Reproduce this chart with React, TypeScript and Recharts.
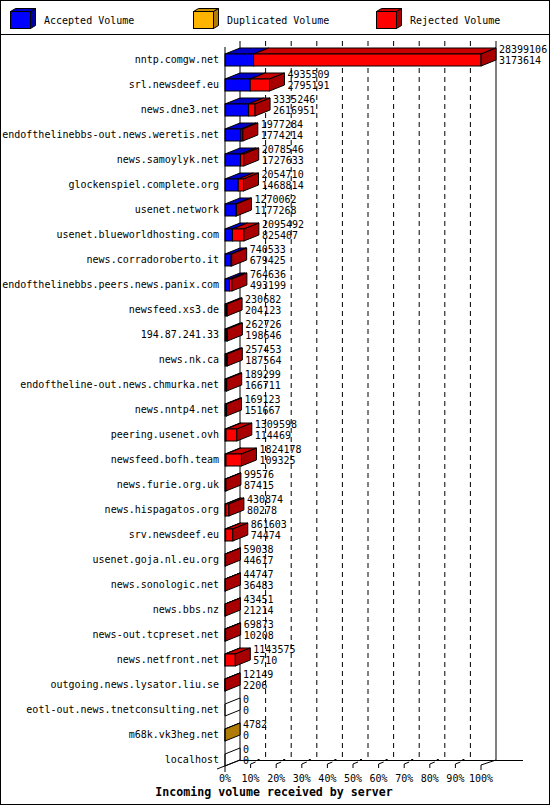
import React from "react";
import { Bar, BarChart, CartesianGrid, Legend, XAxis, YAxis } from "recharts";

const SERVERS = [
  "nntp.comgw.net",
  "srl.newsdeef.eu",
  "news.dne3.net",
  "endofthelinebbs-out.news.weretis.net",
  "news.samoylyk.net",
  "glockenspiel.complete.org",
  "usenet.network",
  "usenet.blueworldhosting.com",
  "news.corradoroberto.it",
  "endofthelinebbs.peers.news.panix.com",
  "newsfeed.xs3.de",
  "194.87.241.33",
  "news.nk.ca",
  "endoftheline-out.news.chmurka.net",
  "news.nntp4.net",
  "peering.usenet.ovh",
  "newsfeed.bofh.team",
  "news.furie.org.uk",
  "news.hispagatos.org",
  "srv.newsdeef.eu",
  "usenet.goja.nl.eu.org",
  "news.sonologic.net",
  "news.bbs.nz",
  "news-out.tcpreset.net",
  "news.netfront.net",
  "outgoing.news.lysator.liu.se",
  "eotl-out.news.tnetconsulting.net",
  "m68k.vk3heg.net",
  "localhost",
];

// first number printed next to each bar
const TOTAL_VOLUME = [
  28399106, 4935509, 3335246, 1977284, 2078546, 2054710, 1270062, 2095492, 740533, 764636,
  230682, 262726, 257453, 189299, 169123, 1309598, 1824178, 99576, 430874, 861603,
  59038, 44747, 43451, 69873, 1143575, 12149, 0, 4782, 0,
];

// second number printed next to each bar
const ACCEPTED_VOLUME = [
  3173614, 2795191, 2616951, 1774214, 1727633, 1468814, 1177268, 825407, 679425, 493199,
  204123, 198646, 187564, 166711, 151667, 114469, 109325, 87415, 80278, 74474,
  44617, 36483, 21214, 10208, 5710, 2206, 0, 0, 0,
];

const DUPLICATED_VOLUME = [
  0, 0, 0, 0, 0, 0, 0, 0, 0, 0,
  0, 0, 0, 0, 0, 0, 0, 0, 0, 0,
  0, 0, 0, 0, 0, 0, 0, 4782, 0,
];

const PCT_TICKS = [0, 10, 20, 30, 40, 50, 60, 70, 80, 90, 100];
const PCT_LABELS = PCT_TICKS.map((p) => `${p}%`);

const FONT = "'DejaVu Sans Mono', monospace";
const DEPTH_X = 15;
const DEPTH_Y = 6;

const SERIES = [
  { key: "accepted", name: "Accepted Volume", front: "#0000ff", top: "#0000c8", side: "#0000a0" },
  { key: "duplicated", name: "Duplicated Volume", front: "#ffb400", top: "#cc9000", side: "#b07c08" },
  { key: "rejected", name: "Rejected Volume", front: "#ff0000", top: "#c80000", side: "#a80000" },
];

const MAX_TOTAL = Math.max(...TOTAL_VOLUME);

const data = SERVERS.map((name, i) => ({
  name,
  total: TOTAL_VOLUME[i],
  accepted: ACCEPTED_VOLUME[i],
  duplicated: DUPLICATED_VOLUME[i],
  rejected: TOTAL_VOLUME[i] - ACCEPTED_VOLUME[i] - DUPLICATED_VOLUME[i],
}));

function lastSegment(row: any) {
  let last = -1;
  SERIES.forEach((s, i) => {
    if (row[s.key] > 0) last = i;
  });
  return last;
}

function sidePoints(x: number, y: number, h: number) {
  return `${x},${y} ${x + DEPTH_X},${y - DEPTH_Y} ${x + DEPTH_X},${y + h - DEPTH_Y} ${x},${y + h}`;
}

function makeShape(idx: number) {
  const s = SERIES[idx];
  return (props: any) => {
    const { x, y, height, payload } = props;
    const w = Math.max(0, props.width || 0);
    const x1 = x + w;
    const last = lastSegment(payload);
    return (
      <g>
        {w > 0 && (
          <>
            <polygon
              points={`${x},${y} ${x + DEPTH_X},${y - DEPTH_Y} ${x1 + DEPTH_X},${y - DEPTH_Y} ${x1},${y}`}
              fill={s.top}
              stroke="#000"
            />
            <rect x={x} y={y} width={w} height={height} fill={s.front} stroke="#000" />
          </>
        )}
        {idx === last && <polygon points={sidePoints(x1, y, height)} fill={s.side} stroke="#000" />}
        {idx === SERIES.length - 1 && (
          <>
            {last < 0 && <polygon points={sidePoints(x1, y, height)} fill="#fff" stroke="#000" />}
            <text x={x1 + DEPTH_X + 3} y={y - 1} fontSize={10} fontFamily={FONT} fill="#000">
              {payload.total}
            </text>
            <text x={x1 + DEPTH_X + 3} y={y + 10} fontSize={10} fontFamily={FONT} fill="#000">
              {payload.accepted}
            </text>
          </>
        )}
      </g>
    );
  };
}

function LegendBoxes({ payload }: any) {
  const items = payload && payload.length ? payload : SERIES.map((s) => ({ value: s.name, dataKey: s.key }));
  return (
    <svg width={550} height={35} style={{ display: "block" }}>
      <line x1={0} y1={34.5} x2={550} y2={34.5} stroke="#000" />
      {items.map((item: any, i: number) => {
        const s = SERIES.find((d) => d.key === item.dataKey) || SERIES[i];
        const lx = 10.5 + 183 * i;
        const ty = 11.5;
        return (
          <g key={s.key}>
            <polygon
              points={`${lx},${ty} ${lx + 5},${ty - 3} ${lx + 25},${ty - 3} ${lx + 20},${ty}`}
              fill={s.top}
              stroke="#000"
            />
            <polygon
              points={`${lx + 20},${ty} ${lx + 25},${ty - 3} ${lx + 25},${ty + 14} ${lx + 20},${ty + 17}`}
              fill={s.side}
              stroke="#000"
            />
            <rect x={lx} y={ty} width={20} height={17} fill={s.front} stroke="#000" />
            <text x={lx + 33.5} y={23.5} fontSize={10} fontFamily={FONT} fill="#000">
              {item.value}
            </text>
          </g>
        );
      })}
    </svg>
  );
}

function FloorTick(props: any) {
  const { x, y, index } = props;
  const last = index === PCT_TICKS.length - 1;
  return (
    <g>
      {index === 0 && (
        <>
          <line x1={x - 8} y1={y - 3} x2={x + DEPTH_X} y2={y - 12} stroke="#000" />
          <line x1={x + DEPTH_X} y1={y - 11.5} x2={x + 298} y2={y - 11.5} stroke="#000" />
        </>
      )}
      {index > 0 && !last && (
        <>
          <polyline points={`${x},${y - 4} ${x},${y - 8} ${x + 5},${y - 10}`} fill="none" stroke="#000" />
          <rect x={x + 7} y={y - 13} width={2} height={2} fill="#000" />
        </>
      )}
      {last && (
        <>
          <line x1={x} y1={y - 2} x2={x} y2={y - 7} stroke="#000" />
          <line x1={x} y1={y - 7} x2={x + DEPTH_X} y2={y - 12} stroke="#000" />
        </>
      )}
      <text x={x} y={y + 6} dy="0.355em" textAnchor="middle" fontSize={10} fontFamily={FONT} fill="#000">
        {PCT_LABELS[index]}
      </text>
    </g>
  );
}

const INNER_TICKS = PCT_TICKS.slice(1, -1).map((p) => (MAX_TOTAL * p) / 100);
const WALL_TICKS = [0, MAX_TOTAL];

// grid lines sit on the back wall, shifted by the bar depth
function backPlane(values: number[]) {
  return ({ xAxis, offset }: any) =>
    values.map((v) => {
      const px =
        xAxis && typeof xAxis.scale === "function"
          ? xAxis.scale(v)
          : offset.left + (v / MAX_TOTAL) * offset.width;
      return px + DEPTH_X;
    });
}

export default function App() {
  return (
    <div
      style={{
        position: "absolute",
        left: 0,
        top: 0,
        width: 550,
        height: 805,
        background: "#fff",
        boxShadow: "inset 0 0 0 1px #000",
        fontFamily: FONT,
      }}
    >
      <BarChart
        width={550}
        height={805}
        data={data}
        layout="vertical"
        margin={{ top: 12, right: 69, bottom: 3, left: 0 }}
        barSize={12}
      >
        <CartesianGrid
          horizontal={false}
          y={41}
          height={720}
          x={225}
          width={300}
          stroke="#000"
          strokeDasharray="5 4"
          verticalCoordinatesGenerator={backPlane(INNER_TICKS)}
        />
        <CartesianGrid
          horizontal={false}
          y={41}
          height={720}
          x={225}
          width={300}
          stroke="#000"
          verticalCoordinatesGenerator={backPlane(WALL_TICKS)}
        />
        <Legend verticalAlign="top" align="left" content={<LegendBoxes />} wrapperStyle={{ top: 0, left: 0, width: 550, height: 35 }} />
        <XAxis
          type="number"
          domain={[0, MAX_TOTAL]}
          ticks={PCT_TICKS.map((p) => (MAX_TOTAL * p) / 100)}
          interval={0}
          axisLine={false}
          tickLine={false}
          tickSize={0}
          tickMargin={0}
          height={30}
          tick={<FloorTick />}
        />
        <YAxis
          type="category"
          dataKey="name"
          width={225}
          interval={0}
          axisLine={{ stroke: "#000" }}
          tickLine={false}
          tickSize={6}
          tickMargin={0}
          tick={{ fill: "#000", fontSize: 10, fontFamily: FONT }}
        />
        {SERIES.map((s, i) => (
          <Bar
            key={s.key}
            dataKey={s.key}
            name={s.name}
            stackId="volume"
            fill={s.front}
            shape={makeShape(i)}
            isAnimationActive={false}
          />
        ))}
      </BarChart>
      <div
        style={{
          position: "absolute",
          left: 0,
          top: 785,
          width: 548,
          textAlign: "center",
          fontFamily: FONT,
          fontWeight: "bold",
          fontSize: 11.6,
          lineHeight: "14px",
        }}
      >
        Incoming volume received by server
      </div>
    </div>
  );
}
